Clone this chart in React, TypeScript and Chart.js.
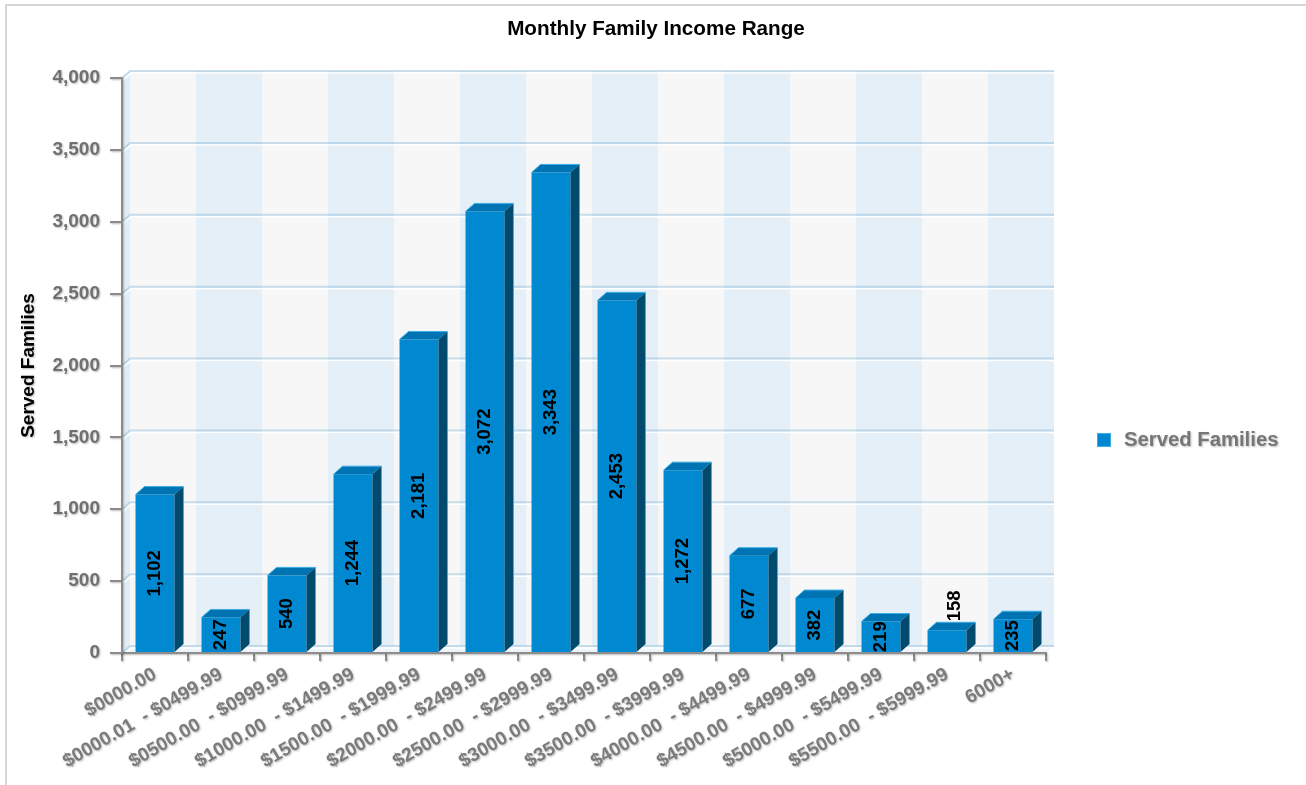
import React, { useEffect, useRef } from 'react';
import { Chart, registerables } from 'chart.js';

Chart.register(...registerables);

const TITLE = 'Monthly Family Income Range';
const SERIES_LABEL = 'Served Families';
const Y_TITLE = 'Served Families';
const CATEGORIES = [
  '$0000.00',
  '$0000.01  - $0499.99',
  '$0500.00  - $0999.99',
  '$1000.00  - $1499.99',
  '$1500.00  - $1999.99',
  '$2000.00  - $2499.99',
  '$2500.00  - $2999.99',
  '$3000.00  - $3499.99',
  '$3500.00  - $3999.99',
  '$4000.00  - $4499.99',
  '$4500.00  - $4999.99',
  '$5000.00  - $5499.99',
  '$5500.00  - $5999.99',
  '6000+',
];
const VALUES = [1102, 247, 540, 1244, 2181, 3072, 3343, 2453, 1272, 677, 382, 219, 158, 235];
const Y_MIN = 0;
const Y_MAX = 4000;
const Y_STEP = 500;

const FONT = '"Liberation Sans", Arial, Helvetica, sans-serif';
const FRONT = '#0089d1';
const TOP = '#0074b3';
const SIDE = '#004a6e';
const EDGE = '#3aaee6';
const WALL_A = '#f7f7f7';
const WALL_B = '#e4eff7';
const DXW = 8;
const DYW = 7;
const DXB = 9;
const DYB = 8;

const fmt = (v: number) => v.toLocaleString('en-US');

function noShadow(ctx: CanvasRenderingContext2D) {
  ctx.shadowColor = 'rgba(0,0,0,0)';
  ctx.shadowBlur = 0;
  ctx.shadowOffsetX = 0;
  ctx.shadowOffsetY = 0;
}
function softShadow(ctx: CanvasRenderingContext2D) {
  ctx.shadowColor = 'rgba(0,0,0,0.28)';
  ctx.shadowBlur = 2;
  ctx.shadowOffsetX = 1;
  ctx.shadowOffsetY = 1;
}

const threeD = {
  id: 'threeD',
  beforeDraw(chart: any) {
    const { ctx, chartArea } = chart;
    const { left, right, top, bottom } = chartArea;
    const xs = chart.scales.x;
    const ys = chart.scales.y;
    ctx.save();
    noShadow(ctx);
    // outer frame
    ctx.strokeStyle = '#d6d6d6';
    ctx.lineWidth = 2;
    ctx.beginPath();
    ctx.moveTo(6, 900);
    ctx.lineTo(6, 5);
    ctx.lineTo(1500, 5);
    ctx.stroke();

    const n = chart.data.labels.length;
    const w = xs.getPixelForValue(1) - xs.getPixelForValue(0);
    // back wall bands
    for (let i = 0; i < n; i++) {
      const x0 = xs.getPixelForValue(i) - w / 2 + DXW;
      ctx.fillStyle = i % 2 === 0 ? WALL_A : WALL_B;
      ctx.fillRect(x0, top - DYW, w, bottom - top);
    }
    // left wall
    ctx.fillStyle = '#e2eef7';
    ctx.beginPath();
    ctx.moveTo(left, top);
    ctx.lineTo(left + DXW, top - DYW);
    ctx.lineTo(left + DXW, bottom - DYW);
    ctx.lineTo(left, bottom);
    ctx.closePath();
    ctx.fill();
    // floor
    ctx.fillStyle = '#eef4f9';
    ctx.beginPath();
    ctx.moveTo(left, bottom);
    ctx.lineTo(left + DXW, bottom - DYW);
    ctx.lineTo(right + DXW, bottom - DYW);
    ctx.lineTo(right, bottom);
    ctx.closePath();
    ctx.fill();
    // grid lines on the walls
    ys.ticks.forEach((t: any) => {
      const py = ys.getPixelForValue(t.value);
      ctx.strokeStyle = 'rgba(140,185,215,0.45)';
      ctx.lineWidth = 2;
      ctx.beginPath();
      ctx.moveTo(left, py);
      ctx.lineTo(left + DXW, py - DYW);
      ctx.lineTo(right + DXW, py - DYW);
      ctx.stroke();
      ctx.strokeStyle = 'rgba(255,255,255,0.9)';
      ctx.lineWidth = 1.5;
      ctx.beginPath();
      ctx.moveTo(left + 1, py + 2);
      ctx.lineTo(left + DXW + 1, py - DYW + 2);
      ctx.lineTo(right + DXW, py - DYW + 2);
      ctx.stroke();
    });
    ctx.restore();
    softShadow(ctx);
  },
  beforeDatasetsDraw(chart: any) {
    noShadow(chart.ctx);
  },
  afterDatasetsDraw(chart: any) {
    const { ctx } = chart;
    const meta = chart.getDatasetMeta(0);
    ctx.save();
    noShadow(ctx);
    meta.data.forEach((el: any) => {
      const { x, y, base, width } = el.getProps(['x', 'y', 'base', 'width'], true);
      const l = x - width / 2;
      const r = x + width / 2;
      ctx.fillStyle = TOP;
      ctx.beginPath();
      ctx.moveTo(l, y);
      ctx.lineTo(l + DXB, y - DYB);
      ctx.lineTo(r + DXB, y - DYB);
      ctx.lineTo(r, y);
      ctx.closePath();
      ctx.fill();
      ctx.fillStyle = SIDE;
      ctx.beginPath();
      ctx.moveTo(r, y);
      ctx.lineTo(r + DXB, y - DYB);
      ctx.lineTo(r + DXB, base - DYB);
      ctx.lineTo(r, base);
      ctx.closePath();
      ctx.fill();
      ctx.strokeStyle = EDGE;
      ctx.lineWidth = 1;
      ctx.beginPath();
      ctx.moveTo(l, y);
      ctx.lineTo(l + DXB, y - DYB);
      ctx.lineTo(r + DXB, y - DYB);
      ctx.lineTo(r + DXB, base - DYB);
      ctx.stroke();
    });
    ctx.font = `bold 18.5px ${FONT}`;
    ctx.fillStyle = '#000';
    meta.data.forEach((el: any, i: number) => {
      const { x, y, base } = el.getProps(['x', 'y', 'base'], true);
      const v = chart.data.datasets[0].data[i];
      const txt = fmt(v);
      const tw = ctx.measureText(txt).width;
      const h = base - y;
      ctx.save();
      if (tw <= h + 2) {
        ctx.translate(x - 0.5, (y + base) / 2);
        ctx.rotate(-Math.PI / 2);
        ctx.textAlign = 'center';
        ctx.textBaseline = 'middle';
        ctx.fillText(txt, 0, 0);
      } else {
        ctx.translate(x + DXB - 1, y - DYB - 1);
        ctx.rotate(-Math.PI / 2);
        ctx.textAlign = 'left';
        ctx.textBaseline = 'middle';
        ctx.fillText(txt, 0, 0);
      }
      ctx.restore();
    });
    ctx.restore();
  },
  afterDraw(chart: any) {
    const { ctx } = chart;
    ctx.save();
    noShadow(ctx);
    ctx.font = `bold 20.7px ${FONT}`;
    ctx.fillStyle = '#000';
    ctx.textAlign = 'center';
    ctx.textBaseline = 'middle';
    ctx.fillText(TITLE, 656, 29);
    const ds = chart.data.datasets[0];
    ctx.fillStyle = ds.backgroundColor;
    ctx.fillRect(1097, 433, 14, 14);
    ctx.strokeStyle = EDGE;
    ctx.lineWidth = 1;
    ctx.strokeRect(1097.5, 433.5, 13, 13);
    softShadow(ctx);
    ctx.font = `bold 20.3px ${FONT}`;
    ctx.fillStyle = '#767676';
    ctx.textAlign = 'left';
    ctx.textBaseline = 'middle';
    ctx.fillText(ds.label, 1124, 440);
    ctx.restore();
    noShadow(ctx);
  },
};

export default function App() {
  const ref = useRef<HTMLCanvasElement | null>(null);
  useEffect(() => {
    if (!ref.current) return;
    const chart = new Chart(ref.current, {
      type: 'bar',
      data: {
        labels: CATEGORIES,
        datasets: [
          {
            label: SERIES_LABEL,
            data: VALUES,
            backgroundColor: FRONT,
            borderWidth: 0,
            barPercentage: 0.59,
            categoryPercentage: 1,
          },
        ],
      },
      options: {
        responsive: false,
        animation: false,
        devicePixelRatio: 1,
        layout: { padding: { top: 78, right: 260, bottom: 0, left: 0 } },
        plugins: {
          legend: { display: false },
          title: { display: false },
          tooltip: { enabled: false },
        },
        scales: {
          x: {
            type: 'category',
            offset: true,
            grid: {
              offset: true,
              drawOnChartArea: false,
              drawTicks: true,
              tickLength: 8,
              color: '#8c8c8c',
              lineWidth: 2,
            },
            border: { display: true, color: '#8c8c8c', width: 2 },
            ticks: {
              minRotation: 30,
              maxRotation: 30,
              autoSkip: false,
              padding: 2,
              color: '#7b7b7b',
              font: { family: FONT, size: 19, weight: 'bold' },
            },
            afterFit: (s: any) => {
              s.height = 132;
            },
          },
          y: {
            min: Y_MIN,
            max: Y_MAX,
            ticks: {
              stepSize: Y_STEP,
              padding: 10,
              color: '#707070',
              font: { family: FONT, size: 19, weight: 'bold' },
              callback: (v: any) => fmt(Number(v)),
            },
            grid: {
              drawOnChartArea: false,
              drawTicks: true,
              tickLength: 12,
              color: '#8c8c8c',
              lineWidth: 2,
            },
            border: { display: true, color: '#8c8c8c', width: 2 },
            title: {
              display: true,
              text: Y_TITLE,
              color: '#000',
              font: { family: FONT, size: 19, weight: 'bold' },
              padding: { top: 17, bottom: 0 },
            },
            afterFit: (s: any) => {
              s.width = 122;
            },
          },
        },
      },
      plugins: [threeD],
    } as any);
    return () => chart.destroy();
  }, []);
  return (
    <div style={{ position: 'absolute', left: 0, top: 0, width: 1306, height: 785, background: '#fff' }}>
      <canvas ref={ref} width={1306} height={785} style={{ display: 'block' }} />
    </div>
  );
}
